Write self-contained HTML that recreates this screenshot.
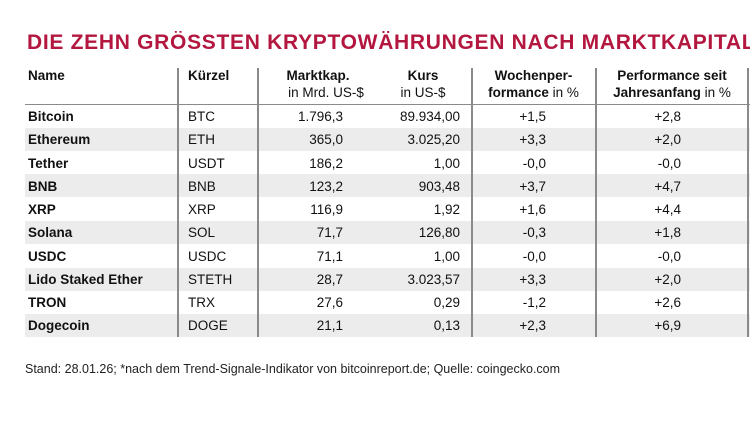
<!DOCTYPE html>
<html><head><meta charset="utf-8"><style>
body{margin:0;width:750px;height:421px;background:#fff;overflow:hidden;position:relative;font-family:"Liberation Sans",sans-serif;color:#111}
.tw{position:absolute;left:27px;top:31px;width:723px;height:30px;overflow:hidden}
.t{font-size:21px;font-weight:bold;color:#b3173f;letter-spacing:0.7px;white-space:nowrap}
.band{position:absolute;left:25px;width:725px;height:23px;background:#ececec}
.v{position:absolute;top:68px;height:269px;width:2px;background:#8a8a8a}
.h{position:absolute;left:25px;width:725px;top:104px;height:1px;background:#8a8a8a}
.c{position:absolute;font-size:13.5px;white-space:nowrap;line-height:23px}
.b{font-weight:bold}
.hd{position:absolute;font-size:13.5px;line-height:17px;text-align:center;white-space:nowrap}
.r{text-align:right}
.f{position:absolute;left:25px;top:362px;font-size:12.5px;color:#222;white-space:nowrap}
</style></head><body>
<div class="tw"><div class="t">DIE ZEHN GRÖSSTEN KRYPTOWÄHRUNGEN NACH MARKTKAPITALISIERUNG</div></div>
<div class="band" style="top:128px"></div>
<div class="band" style="top:174px"></div>
<div class="band" style="top:221px"></div>
<div class="band" style="top:268px"></div>
<div class="band" style="top:314px"></div>
<div class="h"></div>
<div class="v" style="left:177px"></div>
<div class="v" style="left:257px"></div>
<div class="v" style="left:471px"></div>
<div class="v" style="left:595px"></div>
<div class="v" style="left:747px"></div>
<div class="hd b" style="left:28px;top:67px;text-align:left">Name</div>
<div class="hd b" style="left:188px;top:67px;text-align:left">Kürzel</div>
<div class="hd" style="left:258px;width:120px;top:67px"><b>Marktkap.</b><br><span style="margin-left:16px">in Mrd. US-$</span></div>
<div class="hd" style="left:378px;width:90px;top:67px"><b>Kurs</b><br>in US-$</div>
<div class="hd" style="left:472px;width:123px;top:67px"><b>Wochenper-</b><br><b>formance</b> in %</div>
<div class="hd" style="left:596px;width:152px;top:67px"><b>Performance seit</b><br><b>Jahresanfang</b> in %</div>
<div id="rows"></div>
<div class="f">Stand: 28.01.26; *nach dem Trend-Signale-Indikator von bitcoinreport.de; Quelle: coingecko.com</div>
<script>
var d=[["Bitcoin","BTC","1.796,3","89.934,00","+1,5","+2,8"],["Ethereum","ETH","365,0","3.025,20","+3,3","+2,0"],["Tether","USDT","186,2","1,00","-0,0","-0,0"],["BNB","BNB","123,2","903,48","+3,7","+4,7"],["XRP","XRP","116,9","1,92","+1,6","+4,4"],["Solana","SOL","71,7","126,80","-0,3","+1,8"],["USDC","USDC","71,1","1,00","-0,0","-0,0"],["Lido Staked Ether","STETH","28,7","3.023,57","+3,3","+2,0"],["TRON","TRX","27,6","0,29","-1,2","+2,6"],["Dogecoin","DOGE","21,1","0,13","+2,3","+6,9"]];
var h="";d.forEach(function(r,i){var y=105+i*23.25;
h+='<div class="c b" style="left:28px;top:'+y+'px">'+r[0]+'</div>';
h+='<div class="c" style="left:188px;top:'+y+'px">'+r[1]+'</div>';
h+='<div class="c r" style="right:'+(750-343)+'px;top:'+y+'px">'+r[2]+'</div>';
h+='<div class="c r" style="right:'+(750-460)+'px;top:'+y+'px">'+r[3]+'</div>';
h+='<div class="c r" style="right:'+(750-546)+'px;top:'+y+'px">'+r[4]+'</div>';
h+='<div class="c r" style="right:'+(750-681)+'px;top:'+y+'px">'+r[5]+'</div>';});
document.getElementById("rows").innerHTML=h;
</script>
</body></html>
